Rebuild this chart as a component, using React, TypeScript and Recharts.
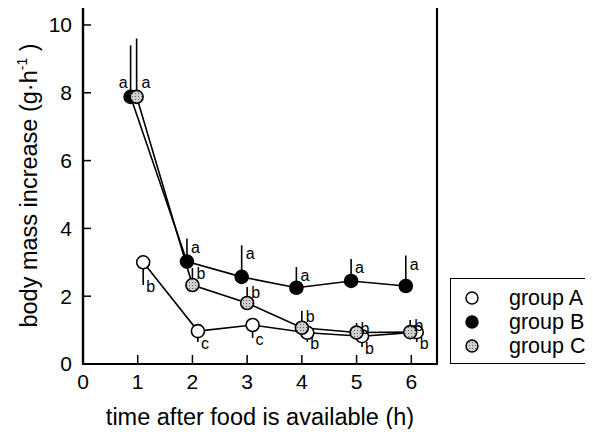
import { ComposedChart, Line, Scatter, XAxis, YAxis, ErrorBar, ReferenceArea, Label } from "recharts";

// hours after food is available (points are shifted a bit per group in the original)
const xA = [1.1, 2.1, 3.1, 4.1, 5.1, 6.1];
const xB = [0.87, 1.9, 2.9, 3.9, 4.9, 5.9];
const xC = [0.98, 2.0, 3.0, 4.0, 5.0, 5.98];

// body mass increase (g/h)
const yA = [3.0, 0.97, 1.15, 0.92, 0.82, 0.94];
const yB = [7.88, 3.02, 2.57, 2.25, 2.45, 2.3];
const yC = [7.88, 2.33, 1.8, 1.07, 0.93, 0.94];

// one-sided errors: A drawn downwards, B and C upwards
const errA = [0.67, 0.32, 0.38, 0.27, 0.32, 0.29];
const errB = [1.52, 0.68, 0.93, 0.61, 0.65, 0.9];
const errC = [1.72, 0.5, 0.47, 0.5, 0.28, 0.36];

// significance letters
const sigA = ["b", "c", "c", "b", "b", "b"];
const sigB = ["a", "a", "a", "a", "a", "a"];
const sigC = ["a", "b", "b", "b", "b", "b"];

const groupNames = ["group A", "group B", "group C"];
const xTicks = [0, 1, 2, 3, 4, 5, 6];
const yTicks = [0, 2, 4, 6, 8, 10];

const X_MAX = 6.47;
const Y_MAX = 10.53;
const FONT = "'Liberation Sans', Arial, Helvetica, sans-serif";
const GREY = "url(#stipple)";

const dataA = xA.map((x, i) => ({ x, y: yA[i], e: [errA[i], 0] }));
const dataB = xB.map((x, i) => ({ x, y: yB[i], e: [0, errB[i]] }));
const dataC = xC.map((x, i) => ({ x, y: yC[i], e: [0, errC[i]] }));

// letters sit at the end of each error bar (first B/C letters sit beside the points)
const lblA = xA.map((x, i) => ({ x, y: yA[i] - errA[i], t: sigA[i], first: false }));
const lblB = xB.map((x, i) => ({ x, y: i === 0 ? yB[i] : yB[i] + errB[i], t: sigB[i], first: i === 0 }));
const lblC = xC.map((x, i) => ({ x, y: i === 0 ? yC[i] : yC[i] + errC[i], t: sigC[i], first: i === 0 }));

const fills = ["#ffffff", "#000000", GREY];

const makeDot = (fill: string) => (p: any) => (
  <circle key={`d${p.index}`} cx={p.cx} cy={p.cy} r={6.5} fill={fill} stroke="#000" strokeWidth={1.6} />
);

const makeLetter = (dx: number, dy: number, firstDx: number, firstAnchor: string) => (p: any) => {
  const first = p.payload?.first;
  return (
    <text
      x={p.cx + (first ? firstDx : dx)}
      y={p.cy + (first ? -9 : dy)}
      textAnchor={first ? firstAnchor : "start"}
      fontSize={16}
      fontFamily={FONT}
      fill="#000"
    >
      {p.payload?.t}
    </text>
  );
};

const YTitle = (props: any) => {
  const vb = props.viewBox || {};
  const cy = vb.y + vb.height / 2;
  const x = 37;
  return (
    <text x={x} y={cy} transform={`rotate(-90 ${x} ${cy})`} textAnchor="middle" fontSize={23.5} fontFamily={FONT} fill="#000">
      body mass increase (g·h
      <tspan fontSize={14} dy={-10}>-1</tspan>
      <tspan dy={10}> )</tspan>
    </text>
  );
};

function LegendBox() {
  return (
    <div
      style={{
        position: "absolute",
        left: 450,
        top: 278,
        width: 160,
        height: 84,
        border: "1.5px solid #000",
        fontFamily: FONT,
        fontSize: 21.5,
      }}
    >
      {groupNames.map((g, i) => (
        <div key={g} style={{ position: "absolute", left: 0, top: 6 + i * 24, height: 26, display: "flex", alignItems: "center" }}>
          <svg width={42} height={26}>
            <circle cx={21} cy={13} r={6} fill={fills[i]} stroke="#000" strokeWidth={1.5} />
          </svg>
          <span style={{ marginLeft: 16, lineHeight: "26px", whiteSpace: "nowrap" }}>{g}</span>
        </div>
      ))}
    </div>
  );
}

export default function App() {
  return (
    <div style={{ position: "relative", width: 593, height: 437, margin: -8, background: "#fff", overflow: "hidden" }}>
      <ComposedChart width={593} height={437} margin={{ top: 7, right: 156, bottom: 0, left: 0 }}>
        <defs>
          <pattern id="stipple" width={3} height={3} patternUnits="userSpaceOnUse">
            <rect width={3} height={3} fill="#cfcfcf" />
            <rect width={1} height={1} fill="#666" />
          </pattern>
        </defs>
        <XAxis
          type="number"
          dataKey="x"
          domain={[0, X_MAX]}
          allowDataOverflow
          ticks={xTicks}
          height={73}
          tickSize={-9}
          tickMargin={19}
          axisLine={{ stroke: "#000", strokeWidth: 2.2 }}
          tickLine={{ stroke: "#000", strokeWidth: 1.5 }}
          tick={{ fill: "#000", fontSize: 21, fontFamily: FONT }}
        >
          <Label value="time after food is available (h)" position="insideBottom" offset={12} fill="#000" fontSize={23.5} fontFamily={FONT} />
        </XAxis>
        <YAxis
          type="number"
          domain={[0, Y_MAX]}
          allowDataOverflow
          ticks={yTicks}
          width={83}
          tickSize={-8}
          tickMargin={19}
          axisLine={{ stroke: "#000", strokeWidth: 2.2 }}
          tickLine={{ stroke: "#000", strokeWidth: 1.5 }}
          tick={{ fill: "#000", fontSize: 21, fontFamily: FONT }}
        >
          <Label content={<YTitle />} />
        </YAxis>
        <ReferenceArea x1={0} x2={X_MAX} y1={0} y2={Y_MAX} fill="none" stroke="#000" strokeWidth={2.2} />

        <Line data={dataA} dataKey="y" type="linear" stroke="#000" strokeWidth={1.6} dot={makeDot(fills[0])} activeDot={false} isAnimationActive={false}>
          <ErrorBar dataKey="e" direction="y" width={0} stroke="#000" strokeWidth={1.6} />
        </Line>
        <Line data={dataB} dataKey="y" type="linear" stroke="#000" strokeWidth={1.6} dot={makeDot(fills[1])} activeDot={false} isAnimationActive={false}>
          <ErrorBar dataKey="e" direction="y" width={0} stroke="#000" strokeWidth={1.6} />
        </Line>
        <Line data={dataC} dataKey="y" type="linear" stroke="#000" strokeWidth={1.6} dot={makeDot(fills[2])} activeDot={false} isAnimationActive={false}>
          <ErrorBar dataKey="e" direction="y" width={0} stroke="#000" strokeWidth={1.6} />
        </Line>

        <Scatter data={lblA} dataKey="y" shape={makeLetter(3, 7, 0, "start")} isAnimationActive={false} />
        <Scatter data={lblB} dataKey="y" shape={makeLetter(4, 14, -3, "end")} isAnimationActive={false} />
        <Scatter data={lblC} dataKey="y" shape={makeLetter(4, 11, 5, "start")} isAnimationActive={false} />
      </ComposedChart>
      <LegendBox />
    </div>
  );
}
